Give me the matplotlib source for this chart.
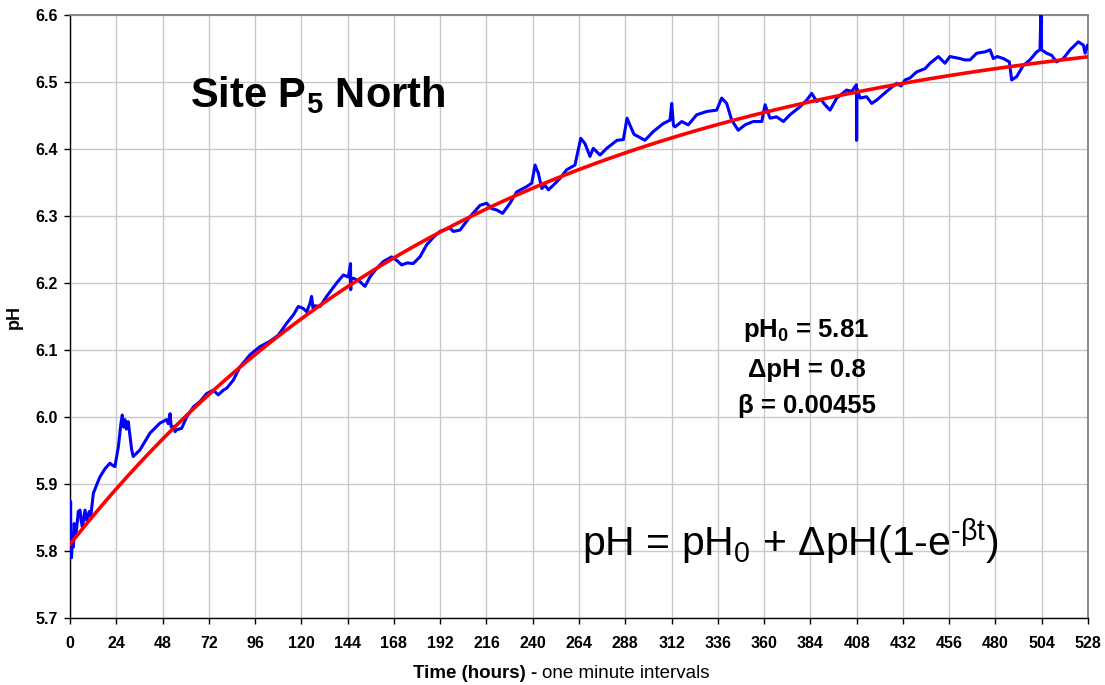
import numpy as np
import matplotlib
matplotlib.use("Agg")
import matplotlib.pyplot as plt

plt.rcParams['font.family'] = ['Liberation Sans', 'DejaVu Sans']
plt.rcParams['mathtext.fontset'] = 'custom'
plt.rcParams['mathtext.rm'] = 'Liberation Sans'
plt.rcParams['mathtext.bf'] = 'Liberation Sans:bold'
plt.rcParams['mathtext.it'] = 'Liberation Sans:italic'

# ---- data ----
t_blue = [0.0, 0.3, 0.5, 0.8, 1.3, 1.8, 2.2, 2.8, 3.5, 4.3, 5.2, 5.8, 6.4, 7.2, 7.8, 8.6, 9.3, 10.0, 10.8,
          12.1, 14.0, 15.6, 18.2, 20.7, 22.0, 23.3, 25.1, 26.4, 27.1, 27.8, 28.5, 29.2, 30.2, 31.2, 32.0,
          32.8, 36.3, 41.5, 46.7, 50.1, 51.0, 51.9, 52.5, 53.6, 54.5, 55.3, 57.9, 60.5, 64.0, 67.4, 70.9,
          74.3, 76.9, 79.5, 81.3, 84.7, 88.2, 93.4, 95.1, 98.5, 103.7, 108.0, 112.4, 116.0, 118.4, 121.0,
          122.8, 124.5, 125.3, 126.0, 127.1, 129.7, 133.1, 138.3, 141.8, 144.4, 145.5, 145.6, 145.8, 147.0,
          150.0, 153.0, 155.6, 159.1, 162.5, 166.8, 169.4, 172.0, 175.0, 178.0, 181.5, 185.0, 188.4, 191.9,
          195.0, 197.1, 198.8, 202.3, 207.5, 212.7, 216.1, 218.7, 221.3, 224.4, 228.2, 231.7, 236.9, 239.5,
          241.2, 242.9, 244.7, 246.4, 248.1, 250.7, 254.1, 257.6, 261.9, 264.9, 267.1, 269.7, 271.4, 274.9,
          278.4, 283.7, 287.0, 288.9, 292.5, 298.2, 302.5, 307.7, 311.2, 312.1, 313.0, 313.8, 317.3, 320.7,
          325.0, 330.2, 335.4, 338.0, 340.6, 343.2, 346.6, 350.1, 354.4, 358.8, 360.5, 363.1, 366.5, 370.0,
          373.4, 378.6, 382.1, 384.7, 387.3, 389.5, 391.6, 394.2, 397.7, 402.8, 405.4, 407.9, 408.0, 408.2,
          409.8, 413.2, 415.8, 418.4, 423.6, 428.7, 431.0, 433.1, 435.7, 439.1, 443.5, 446.1, 450.4, 453.8,
          456.4, 461.6, 464.0, 466.8, 470.3, 474.6, 477.2, 478.9, 481.0, 484.1, 487.2, 488.4, 491.0, 494.5,
          497.9, 501.4, 503.1, 503.7, 503.9, 506.5, 509.1, 511.7, 515.2, 518.7, 523.0, 525.6, 526.5, 527.7,
          528.0]
ph_blue = [5.800, 5.874, 5.795, 5.790, 5.826, 5.806, 5.841, 5.821, 5.835, 5.859, 5.861, 5.845, 5.836, 5.850,
           5.861, 5.846, 5.852, 5.859, 5.852, 5.886, 5.900, 5.911, 5.923, 5.931, 5.928, 5.926, 5.956, 5.990,
           6.003, 5.985, 5.996, 5.982, 5.993, 5.970, 5.951, 5.941, 5.951, 5.976, 5.991, 5.996, 5.990, 6.005,
           5.985, 5.986, 5.978, 5.981, 5.983, 6.000, 6.015, 6.023, 6.035, 6.040, 6.033, 6.040, 6.043, 6.055,
           6.075, 6.093, 6.097, 6.105, 6.113, 6.122, 6.140, 6.153, 6.165, 6.162, 6.157, 6.170, 6.180, 6.163,
           6.166, 6.165, 6.180, 6.200, 6.212, 6.209, 6.229, 6.190, 6.207, 6.207, 6.203, 6.195, 6.209, 6.222,
           6.232, 6.239, 6.234, 6.227, 6.230, 6.229, 6.239, 6.257, 6.268, 6.277, 6.280, 6.282, 6.277, 6.279,
           6.299, 6.316, 6.319, 6.311, 6.309, 6.304, 6.319, 6.336, 6.344, 6.349, 6.376, 6.364, 6.341, 6.346,
           6.339, 6.346, 6.356, 6.369, 6.376, 6.416, 6.408, 6.389, 6.401, 6.391, 6.401, 6.413, 6.414, 6.446,
           6.422, 6.413, 6.426, 6.438, 6.443, 6.468, 6.435, 6.433, 6.441, 6.436, 6.451, 6.456, 6.458, 6.476,
           6.468, 6.443, 6.428, 6.436, 6.441, 6.441, 6.466, 6.446, 6.448, 6.441, 6.451, 6.463, 6.473, 6.483,
           6.471, 6.474, 6.466, 6.458, 6.476, 6.488, 6.486, 6.496, 6.413, 6.490, 6.476, 6.478, 6.468, 6.473,
           6.486, 6.498, 6.494, 6.503, 6.506, 6.515, 6.520, 6.528, 6.538, 6.528, 6.538, 6.535, 6.533, 6.533,
           6.543, 6.545, 6.548, 6.535, 6.538, 6.535, 6.530, 6.503, 6.508, 6.525, 6.533, 6.545, 6.548, 6.620,
           6.548, 6.543, 6.540, 6.530, 6.535, 6.548, 6.560, 6.555, 6.543, 6.555, 6.550]

# fit parameters shown on the chart
pH0 = 5.81
dpH = 0.8
beta = 0.00455

x_ticks = list(range(0, 529, 24))
y_ticks = [5.7, 5.8, 5.9, 6.0, 6.1, 6.2, 6.3, 6.4, 6.5, 6.6]

# ---- figure ----
fig = plt.figure(figsize=(11.05, 6.85), dpi=100)
ax = fig.add_axes([70/1105, 1-618/685, 1018/1105, 603/685])

t_fit = np.linspace(0, 528, 600)
ph_fit = pH0 + dpH * (1 - np.exp(-beta * t_fit))

ax.plot(t_blue, ph_blue, color='#0000FF', lw=2.2, zorder=3, solid_joinstyle='round')
ax.plot(t_fit, ph_fit, color='#FF0000', lw=2.6, zorder=4)

ax.set_xlim(0, 528)
ax.set_ylim(5.7, 6.6)
ax.set_xticks(x_ticks)
ax.set_yticks(y_ticks)
ax.set_yticklabels([f"{v:.1f}" for v in y_ticks])
ax.grid(True, color='#c8c8c8', lw=1.0, zorder=0)
ax.set_axisbelow(True)

for lab in ax.get_xticklabels() + ax.get_yticklabels():
    lab.set_fontweight('bold')
    lab.set_fontsize(11.5)
ax.tick_params(axis='x', direction='out', length=4, width=1, pad=9)
ax.tick_params(axis='y', direction='out', length=4, width=1, pad=5)

for s in ['left', 'bottom']:
    ax.spines[s].set_color('black')
    ax.spines[s].set_linewidth(1.0)
for s in ['top', 'right']:
    ax.spines[s].set_color('#808080')
    ax.spines[s].set_linewidth(1.3)

ax.set_ylabel('pH', fontsize=13, fontweight='bold')
ax.yaxis.set_label_coords(-47/1018, 0.5)

# title inside plot
ax.text(62, 6.463, r'Site P$_{\mathbf{5}}$ North', fontsize=30, fontweight='bold',
        ha='left', va='baseline')

# parameter text
ax.text(382, 6.120, r'pH$_{\mathbf{0}}$ = 5.81', fontsize=18.5, fontweight='bold', ha='center', va='baseline')
ax.text(382, 6.060, '\u0394pH = 0.8', fontsize=18.5, fontweight='bold', ha='center', va='baseline')
ax.text(382, 6.006, '\u03b2 = 0.00455', fontsize=18.5, fontweight='bold', ha='center', va='baseline')

# equation
ax.text(265.4, 5.793, 'pH = pH$_0$ + \u0394pH(1-e$^{\\mathrm{\u2010\u03b2t}}$)', fontsize=29.5,
        ha='left', va='baseline')

# x label: bold part + regular part
yb = 1 - 678.3/685
t1 = fig.text(412.7/1105, yb, 'Time (hours) - ', fontsize=13.5, fontweight='bold',
              ha='left', va='baseline')
fig.canvas.draw()
bb = t1.get_window_extent()
fig.text(bb.x1/1105/ (fig.dpi/100), yb, 'one minute intervals', fontsize=13.5,
         ha='left', va='baseline')

fig.savefig('out.png', dpi=100)
